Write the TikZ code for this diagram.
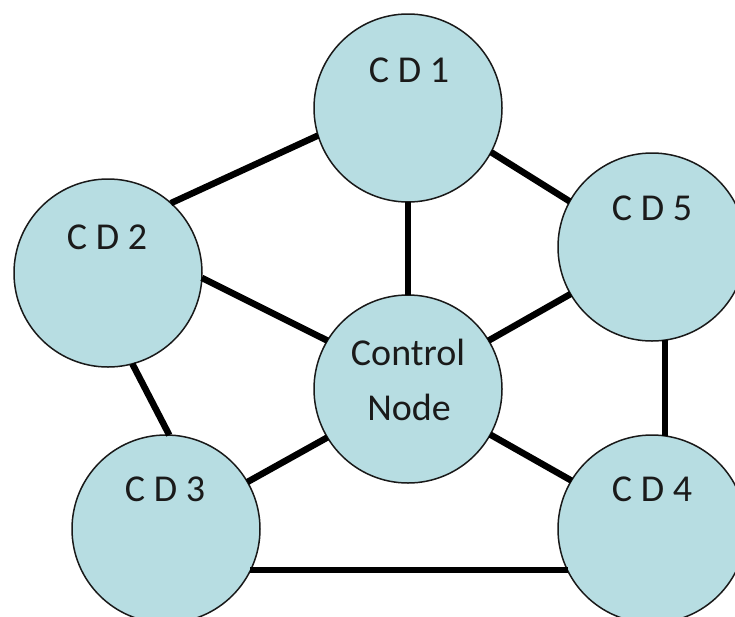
\documentclass[tikz,border=0pt]{standalone}
\usepackage{fontspec}
\setmainfont{Carlito}
\definecolor{cdfill}{HTML}{B7DDE2}
\definecolor{cdtext}{HTML}{1A1A1A}
\tikzset{
  cdcircle/.style={circle, draw=black!90, line width=1.5pt, fill=cdfill,
    minimum size=188pt, inner sep=0pt, outer sep=0pt},
  cdlabel/.style={text=cdtext, font=\fontsize{38}{44}\selectfont, inner sep=0pt},
  link/.style={line width=6.5pt, line cap=butt}
}
\begin{document}
\begin{tikzpicture}[x=1pt, y=-1pt]
  \useasboundingbox (0,0) rectangle (735,616);
  \clip (0,0) rectangle (735,616);
  % devices and the central controller
  \node[cdcircle] (cd1) at (408,108) {};
  \node[cdcircle] (cd2) at (108,273) {};
  \node[cdcircle] (cd5) at (652,247) {};
  \node[cdcircle] (ctrl) at (408,389) {};
  \node[cdcircle] (cd3) at (166,529) {};
  \node[cdcircle] (cd4) at (652,529) {};
  % labels
  \node[cdlabel] (t1) at (409,70) {C D 1};
  \node[cdlabel] (t2) at (107,237) {C D 2};
  \node[cdlabel] (t5) at (652,208) {C D 5};
  \node[cdlabel] (t3) at (165,489) {C D 3};
  \node[cdlabel] (t4) at (652,489) {C D 4};
  \node[cdlabel] (tc1) at (408,352) {Control};
  \node[cdlabel] (tc2) at (409,407) {Node};
  % links
  \draw[link] (cd1.197) -- (cd2.48);
  \draw[link] (cd1.-28) -- (cd5.151);
  \draw[link] (cd1.south) -- (ctrl.north);
  \draw[link] (cd2.-3) -- (ctrl.149);
  \draw[link] (cd2.-75) -- (cd3.88);
  \draw[link] (cd5.210) -- (ctrl.31);
  \draw[link] (cd5.-82) -- (cd4.82);
  \draw[link] (ctrl.211) -- (cd3.30);
  \draw[link] (ctrl.-29) -- (cd4.149);
  \draw[link] (cd3.-26) -- (cd4.206);
\end{tikzpicture}
\end{document}
